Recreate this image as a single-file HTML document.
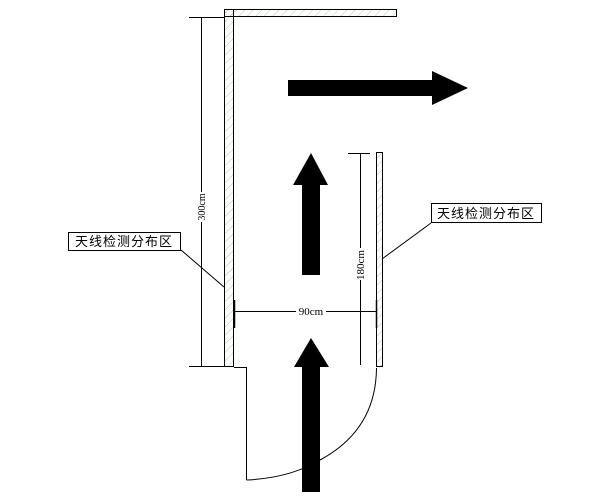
<!DOCTYPE html>
<html><head><meta charset="utf-8"><style>
html,body{margin:0;padding:0;background:#fff;width:600px;height:500px;overflow:hidden}
</style></head><body>
<svg width="600" height="500" viewBox="0 0 600 500" xmlns="http://www.w3.org/2000/svg">
<defs>
<pattern id="h" width="6" height="6" patternUnits="userSpaceOnUse" patternTransform="rotate(45)">
<line x1="0" y1="0" x2="0" y2="6" stroke="#9fd39f" stroke-width="1"/>
</pattern>
</defs>
<g stroke="#000" stroke-width="1">
<rect x="224.5" y="9.5" width="172" height="7" fill="url(#h)"/>
<rect x="224.5" y="9.5" width="9" height="357" fill="url(#h)"/>
<rect x="224.5" y="9.5" width="9" height="7" fill="none"/>
<rect x="376.5" y="152.5" width="6" height="214" fill="url(#h)"/>
</g>
<g stroke="#000" stroke-width="1" fill="none">
<line x1="189" y1="17.5" x2="224" y2="17.5"/>
<line x1="201.5" y1="17" x2="201.5" y2="366"/>
<line x1="189" y1="366.5" x2="232" y2="366.5"/>
<line x1="348" y1="153.5" x2="370" y2="153.5"/>
<line x1="360.5" y1="153" x2="360.5" y2="365"/>
<line x1="235" y1="311.5" x2="376" y2="311.5"/>
<line x1="234.5" y1="300" x2="234.5" y2="328" stroke-width="1.5"/>
<line x1="376.5" y1="300" x2="376.5" y2="328" stroke-width="1.5"/>
<polyline points="234,367.5 246.5,367.5 246.5,480"/>
<path d="M246.5,480 Q290,478 320,460 Q376,430 376.5,368"/>
<line x1="181" y1="250" x2="224" y2="287"/>
<line x1="431" y1="223" x2="382" y2="259"/>
</g>
<rect x="196" y="192" width="12" height="30" fill="#fff"/>
<text transform="translate(205,207) rotate(-90)" text-anchor="middle" font-family="Liberation Serif, serif" font-size="10">300cm</text>
<rect x="355" y="248" width="12" height="32" fill="#fff"/>
<text transform="translate(364,265) rotate(-90)" text-anchor="middle" font-family="Liberation Serif, serif" font-size="11">180cm</text>
<rect x="296" y="305" width="30" height="12" fill="#fff"/>
<text x="311" y="315" text-anchor="middle" font-family="Liberation Serif, serif" font-size="11">90cm</text>
<g fill="#000">
<polygon points="288,80 432,80 432,71 468,88 432,105 432,96 288,96"/>
<polygon points="311,153 328,185 320,185 320,275 302,275 302,185 293,185"/>
<polygon points="311,338 329,367 320,367 320,492 302,492 302,367 294,367"/>
</g>
<rect x="68.5" y="232.5" width="112" height="18" fill="#fff" stroke="#000"/>
<text x="124" y="246" text-anchor="middle" font-family="'Noto Sans CJK SC', sans-serif" font-size="13" letter-spacing="1">天线检测分布区</text>
<rect x="431.5" y="203.5" width="110" height="19" fill="#fff" stroke="#000"/>
<text x="486" y="218" text-anchor="middle" font-family="'Noto Sans CJK SC', sans-serif" font-size="13" letter-spacing="1">天线检测分布区</text>
</svg>
</body></html>
